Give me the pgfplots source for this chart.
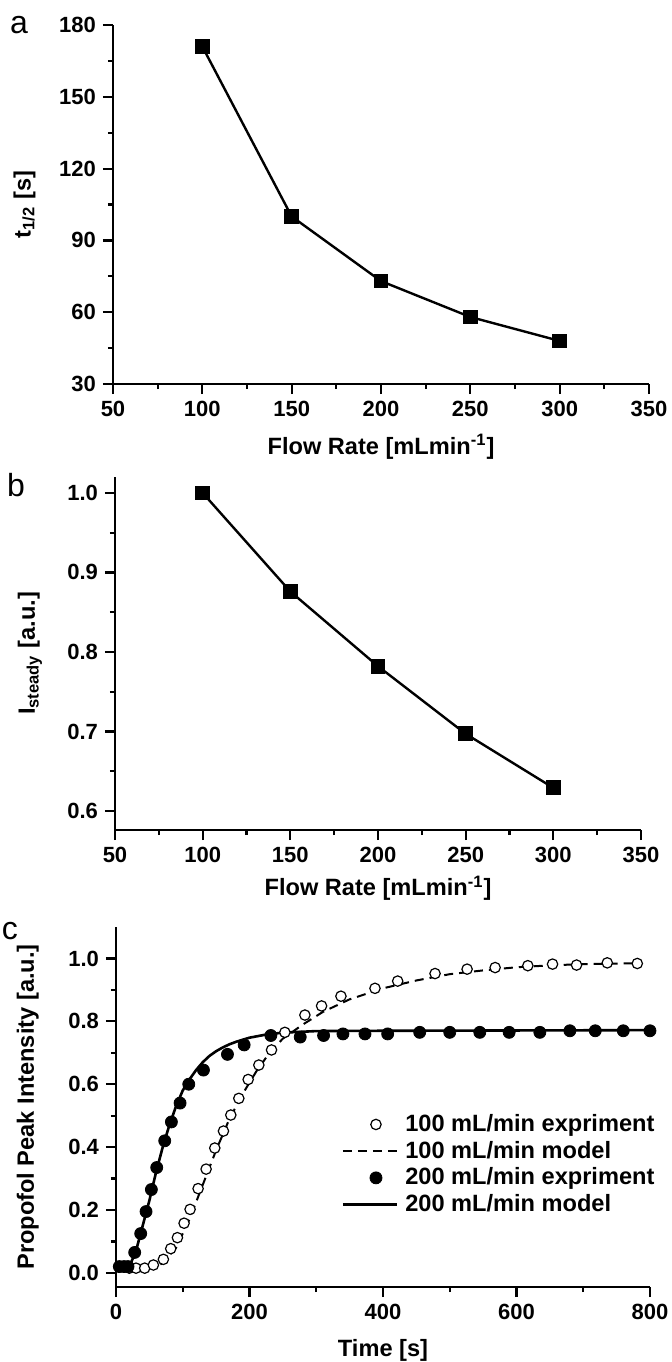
\documentclass[border=0pt]{standalone}
\usepackage{fontspec}
\setmainfont{Liberation Sans}
\usepackage{pgfplots}
\pgfplotsset{compat=1.18}

\pgfplotsset{
 panel/.style={
  scale only axis,
  axis lines=left,
  axis line style={-, line width=1.4pt},
  tick align=outside,
  major tick length=5pt,
  minor tick length=2.5pt,
  every tick/.append style={line width=1.1pt, black},
  minor tick num=1,
  tick label style={font=\fontsize{11}{13}\selectfont\bfseries},
  label style={font=\fontsize{11.8}{14}\selectfont\bfseries},
  /pgf/number format/assume math mode=true,
  clip=false,
 },
 markleg/.style={legend image code/.code={\path (0pt,0pt) (27pt,0pt); \draw[##1] plot coordinates {(16.5pt,0pt)};}},
 lineleg/.style={legend image code/.code={\draw[##1] (0pt,0pt) -- (27pt,0pt);}},
}

\begin{document}
\begin{tikzpicture}
\useasboundingbox (0,0) rectangle (336pt,-681pt);

% ---------------- panel a ----------------
\begin{axis}[panel,
  at={(56.5pt,-192pt)}, anchor=south west,
  width=268pt, height=179.5pt,
  xmin=50, xmax=350, ymin=30, ymax=180,
  xtick={50,100,...,350}, ytick={30,60,...,180},
  xlabel={Flow Rate [mLmin\textsuperscript{-1}]},
  ylabel={t\textsubscript{1/2} [s]},
  xlabel style={at={(axis description cs:0.5,-0.1755)}, anchor=center},
  ylabel style={at={(axis description cs:-0.165,0.5)}, anchor=center},
]
\addplot[black, line width=1.2pt, mark=square*, mark size=3.1pt] coordinates {
 (100,171) (150,100) (200,73) (250,58) (300,48)
};
\end{axis}

% ---------------- panel b ----------------
\begin{axis}[panel,
  at={(57.5pt,-415pt)}, anchor=south west,
  width=263pt, height=176.5pt,
  xmin=50, xmax=350, ymin=0.576, ymax=1.02,
  xtick={50,100,...,350}, ytick={0.6,0.7,...,1.0},
  yticklabel style={/pgf/number format/.cd, fixed, fixed zerofill, precision=1},
  xlabel={Flow Rate [mLmin\textsuperscript{-1}]},
  ylabel={I\textsubscript{steady} [a.u.]},
  xlabel style={at={(axis description cs:0.5,-0.165)}, anchor=center},
  ylabel style={at={(axis description cs:-0.1616,0.5)}, anchor=center},
]
\addplot[black, line width=1.2pt, mark=square*, mark size=3.1pt] coordinates {
 (100,1.000) (150,0.876) (200,0.782) (250,0.697) (300,0.629)
};
\end{axis}

% ---------------- panel c ----------------
\begin{axis}[panel,
  at={(58pt,-643.5pt)}, anchor=south west,
  width=267pt, height=180pt,
  xmin=0, xmax=800, ymin=-0.045, ymax=1.1,
  xtick={0,200,...,800}, ytick={0,0.2,...,1.0},
  yticklabel style={/pgf/number format/.cd, fixed, fixed zerofill, precision=1},
  xlabel={Time [s]},
  ylabel={Propofol Peak Intensity [a.u.]},
  xlabel style={at={(axis description cs:0.5,-0.175)}, anchor=center},
  ylabel style={at={(axis description cs:-0.165,0.5)}, anchor=center},
  legend style={draw=none, fill=none, at={(axis description cs:1.026,0.50)}, anchor=north east,
    font=\fontsize{11.8}{14}\selectfont\bfseries, row sep=0.3pt,
    nodes={inner sep=1.5pt},
    /tikz/every odd column/.append style={column sep=2pt}},
  legend cell align=left,
]
% 100 mL/min model (dashed)
\addplot[black, line width=1pt, dash pattern=on 4.5pt off 3pt, forget plot] coordinates {
 (0,0.015) (50,0.015) (70,0.03) (90,0.08) (110,0.17) (130,0.28) (150,0.39) (170,0.49)
 (190,0.57) (210,0.64) (230,0.70) (250,0.745) (280,0.79) (310,0.83) (350,0.87)
 (400,0.905) (450,0.93) (500,0.95) (550,0.962) (600,0.972) (650,0.978) (700,0.982) (780,0.985)
};
% 200 mL/min model (solid)
\addplot[black, line width=1.3pt, forget plot] coordinates {
 (0,0.02) (20,0.02) (30,0.07) (40,0.15) (50,0.23) (60,0.32) (70,0.40) (80,0.47)
 (90,0.53) (100,0.58) (110,0.615) (120,0.645) (130,0.67) (140,0.69) (150,0.705)
 (160,0.717) (170,0.727) (180,0.735) (200,0.748) (225,0.758) (250,0.764) (300,0.769)
 (400,0.77) (800,0.772)
};
% 100 mL/min experiment (open circles)
\addplot[only marks, mark=*, mark size=2.6pt, mark options={fill=white, draw=black, line width=0.6pt}, markleg]
 coordinates {
 (20,0.015) (30,0.015) (43,0.015) (56,0.025) (71,0.043) (82,0.077) (92,0.112) (102,0.158)
 (111,0.202) (123,0.268) (135,0.33) (148,0.397) (161,0.451) (172,0.502) (184,0.555)
 (198,0.615) (214,0.661) (233,0.709) (253,0.765) (283,0.82) (308,0.849) (337,0.88)
 (388,0.905) (422,0.928) (478,0.952) (526,0.966) (568,0.971) (617,0.977) (654,0.982)
 (690,0.979) (736,0.986) (781,0.984)
};
\addlegendentry{100 mL/min expriment}
\addlegendimage{black, line width=1pt, dash pattern=on 4.5pt off 3pt, lineleg}
\addlegendentry{100 mL/min model}
% 200 mL/min experiment (filled circles)
\addplot[only marks, mark=*, mark size=3pt, black, markleg]
 coordinates {
 (5,0.02) (12,0.02) (18,0.02) (28,0.065) (37,0.125) (45,0.195) (53,0.265) (61,0.335)
 (73,0.42) (83,0.48) (96,0.54) (109,0.6) (131,0.645) (167,0.695) (192,0.725) (232,0.755)
 (276,0.75) (311,0.755) (340,0.76) (373,0.76) (407,0.76) (455,0.765) (500,0.765)
 (545,0.765) (589,0.765) (635,0.765) (680,0.77) (718,0.77) (760,0.77) (800,0.77)
};
\addlegendentry{200 mL/min expriment}
\addlegendimage{black, line width=1.3pt, lineleg}
\addlegendentry{200 mL/min model}
\end{axis}

\node[font=\fontsize{16}{18}\selectfont] at (9.5pt,-12.5pt) {a};
\node[font=\fontsize{16}{18}\selectfont] at (8pt,-242.5pt) {b};
\node[font=\fontsize{16}{18}\selectfont] at (5pt,-465.5pt) {c};
\end{tikzpicture}
\end{document}
